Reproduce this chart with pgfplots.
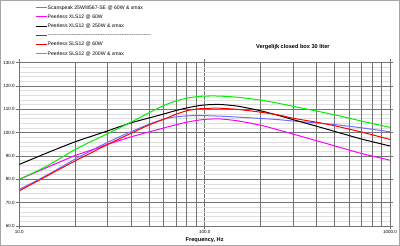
\documentclass[border=0pt]{standalone}
\usepackage{fontspec}
\setmainfont{Liberation Sans}
\usepackage{pgfplots}
\pgfplotsset{compat=1.18}
\definecolor{cblue}{RGB}{110,110,255}
\definecolor{cmag}{RGB}{255,0,255}
\definecolor{cred}{RGB}{255,0,0}
\definecolor{cgreen}{RGB}{0,240,0}
\definecolor{dgreen}{RGB}{0,128,0}
\definecolor{gmaj}{RGB}{115,115,115}
\definecolor{gmin}{RGB}{222,222,222}
\begin{document}
\begin{tikzpicture}[x=1pt,y=1pt]
\useasboundingbox (0,0) rectangle (400,246);
\draw[gray!70, line width=1pt] (0.5,0.5) rectangle (399.5,245.5);
\begin{axis}[
  at={(19.3pt,20pt)}, anchor=south west,
  width=370.7pt, height=163.3pt, scale only axis,
  xmode=log, xmin=10, xmax=1000, ymin=60, ymax=130,
  xtick={10,100,1000}, xticklabels={10.0,100.0,1000.0},
  ytick={60,70,...,130}, yticklabels={60.0,70.0,80.0,90.0,100.0,110.0,120.0,130.0},
  minor ytick={62,64,...,128},
  minor xtick={},
  extra x ticks={20,30,40,50,60,70,80,90,200,300,400,500,600,700,800,900},
  extra x tick labels={},
  extra x tick style={grid=major, major tick length=0pt},
  xmajorgrids, ymajorgrids, yminorgrids, xminorgrids=false,
  major grid style={gmaj, line width=0.7pt},
  minor grid style={gmin, line width=0.6pt},
  axis line style={gmaj, line width=0.8pt},
  tick align=outside, major tick length=3.5pt, minor tick length=0pt,
  tick style={gmaj, line width=0.6pt},
  ticklabel style={font=\fontsize{4.5}{5}\selectfont, inner sep=1pt},
  xlabel={\textbf{Frequency, Hz}},
  xlabel style={font=\fontsize{5.6}{6}\selectfont, at={(axis description cs:0.5,-0.085)}, anchor=center},
  title={\textbf{Vergelijk closed box 30 liter}},
  title style={font=\fontsize{5.6}{6}\selectfont, at={(axis description cs:0.738,1.059)}, anchor=center},
  legend cell align=left,
  legend image code/.code={\draw[#1, line width=1pt] (0pt,0pt) -- (11pt,0pt);},
  legend style={at={(axis description cs:0.0424,1.357)}, anchor=north west,
    draw=none, fill=none, inner sep=0pt, row sep=3.2pt,
    font=\fontsize{5.1}{6}\selectfont,
    nodes={inner sep=0.5pt, text height=4pt, text depth=1pt}},
  every axis plot/.append style={line width=1pt, smooth, tension=0.4},
]
\addplot[cblue] coordinates {
(10,75.7) (12.5,79.6) (15,83.0) (20,88.7) (25,92.7) (30,95.9) (40,100.4) (50,103.6)
(60,105.8) (70,106.8) (80,107.2) (90,107.3) (100,107.3) (120,107.1) (150,106.7)
(200,106.1) (250,105.6) (300,105.0) (400,104.2) (500,103.5) (700,102.1) (1000,100.4)};
\addlegendentry{Scanspeak 25W/8567-SE @ 60W \& xmax}
\addplot[cmag] coordinates {
(10,80.0) (12.5,83.3) (15,86.0) (20,90.2) (25,92.8) (30,95.0) (40,98.2) (50,100.3)
(60,102.0) (70,103.4) (80,104.5) (90,105.2) (100,105.7) (120,105.9) (150,105.1)
(200,103.2) (250,101.2) (300,99.4) (400,96.6) (500,94.4) (700,91.1) (1000,88.2)};
\addlegendentry{Peerless XLS12 @ 60W}
\addplot[black] coordinates {
(10,86.4) (12.5,89.6) (15,92.2) (20,96.1) (25,98.7) (30,100.8) (40,104.2) (50,106.3)
(60,108.0) (70,109.5) (80,110.6) (90,111.4) (100,111.9) (120,112.1) (150,111.4)
(200,109.4) (250,107.4) (300,105.6) (400,102.8) (500,100.6) (700,97.3) (1000,94.3)};
\addlegendentry{Peerless XLS12 @ 250W \& xmax}
\addlegendimage{dgreen}
\addlegendentry{\hbox to 103pt{\xleaders\hbox{-}\hfill}}
\addplot[cred] coordinates {
(10,75.1) (12.5,79.2) (15,82.6) (20,87.9) (25,91.8) (30,95.0) (40,99.7) (50,103.3)
(60,105.7) (70,107.9) (80,109.4) (90,110.1) (100,110.4) (120,110.5) (150,110.0)
(200,108.8) (250,107.6) (300,106.2) (400,104.5) (500,103.0) (700,100.3) (1000,97.1)};
\addlegendentry{Peerless SLS12 @ 60W}
\addplot[cgreen] coordinates {
(10,80.0) (12.5,83.6) (15,86.9) (20,92.8) (25,96.6) (30,99.6) (40,104.5) (50,108.5)
(60,111.6) (70,113.6) (80,114.8) (90,115.4) (100,115.7) (120,115.7) (150,115.2)
(200,114.0) (250,112.6) (300,111.3) (400,109.3) (500,107.7) (700,105.0) (1000,102.3)};
\addlegendentry{Peerless SLS12 @ 200W \& xmax}
\end{axis}
\end{tikzpicture}
\end{document}
